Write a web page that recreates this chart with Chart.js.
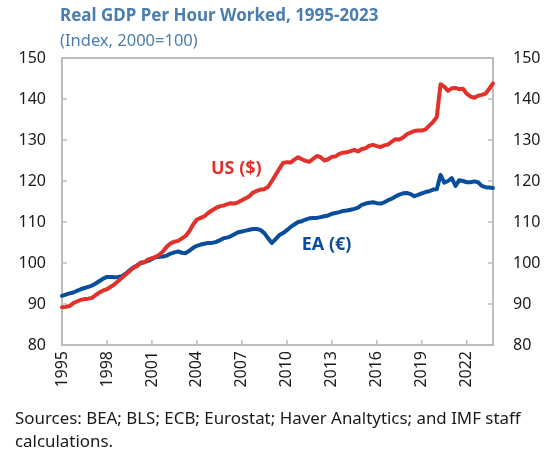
<!DOCTYPE html>
<html>
<head>
<meta charset="utf-8">
<title>Real GDP Per Hour Worked</title>
<script src="https://cdn.jsdelivr.net/npm/chart.js@4/dist/chart.umd.min.js"></script>
<style>
  html, body { margin: 0; padding: 0; background: #fff; }
  #wrap { position: relative; width: 550px; height: 449px; font-family: "Noto Sans", sans-serif; }
  #title { position: absolute; left: 60px; top: 3px; font-size: 17px; font-weight: bold; color: #4a7eb1; white-space: nowrap; }
  #subtitle { position: absolute; left: 60px; top: 28px; font-size: 16.5px; color: #4a7eb1; white-space: nowrap; }
  #source { position: absolute; left: 15px; top: 406px; font-size: 16.9px; line-height: 23px; color: #1a1a1a; white-space: nowrap; }
  canvas { position: absolute; left: 0; top: 0; }
</style>
</head>
<body>
<div id="wrap">
  <canvas id="gdpChart" width="550" height="449"></canvas>
  <div id="title">Real GDP Per Hour Worked, 1995-2023</div>
  <div id="subtitle">(Index, 2000=100)</div>
  <div id="source">Sources: BEA; BLS; ECB; Eurostat; Haver Analtytics; and IMF staff<br>calculations.</div>
</div>
<script>
// quarterly, 1995Q1 .. 2023Q4
const years = [1995, 1996, 1997, 1998, 1999, 2000, 2001, 2002, 2003, 2004, 2005, 2006, 2007, 2008, 2009,
               2010, 2011, 2012, 2013, 2014, 2015, 2016, 2017, 2018, 2019, 2020, 2021, 2022, 2023];
const quarters = [];
years.forEach(y => { for (let q = 1; q <= 4; q++) quarters.push(y + 'Q' + q); });

const usValues = [
  89.2, 89.3, 89.5, 90.2,   90.6, 91.0, 91.2, 91.3,   91.5, 92.2, 92.8, 93.3,   93.6, 94.2, 94.8, 95.6,
  96.4, 97.2, 98.0, 98.8,   99.2, 100.1, 100.2, 100.9, 101.2, 101.5, 102.0, 102.9, 104.0, 104.8, 105.2, 105.4,
  106.0, 106.6, 107.8, 109.4, 110.6, 111.0, 111.4, 112.2, 112.8, 113.4, 113.8, 114.0, 114.3, 114.6, 114.5, 114.8,
  115.3, 115.8, 116.3, 117.2, 117.6, 117.9, 118.0, 118.6, 120.0, 121.5, 123.0, 124.4, 124.6, 124.5, 125.2, 125.8,
  125.3, 124.9, 124.7, 125.4, 126.1, 125.8, 125.0, 125.3, 125.9, 126.0, 126.6, 126.9, 127.0, 127.3, 127.6, 127.2,
  127.8, 128.0, 128.6, 128.8, 128.5, 128.3, 128.7, 128.9, 129.6, 130.2, 130.1, 130.6, 131.4, 131.8, 132.2, 132.3,
  132.3, 132.6, 133.5, 134.4, 135.6, 143.6, 143.0, 142.0, 142.6, 142.7, 142.4, 142.5, 141.3, 140.6, 140.3, 140.8,
  141.0, 141.3, 142.5, 143.8
];

const eaValues = [
  92.0, 92.3, 92.6, 92.8,   93.2, 93.6, 93.9, 94.2,   94.5, 95.0, 95.6, 96.2,   96.6, 96.6, 96.5, 96.6,
  96.8, 97.4, 98.2, 98.9,   99.4, 100.0, 100.2, 100.5, 101.0, 101.4, 101.5, 101.6, 101.8, 102.3, 102.6, 102.8,
  102.5, 102.4, 103.0, 103.7, 104.2, 104.5, 104.7, 104.9, 104.9, 105.1, 105.5, 106.0, 106.2, 106.5, 107.0, 107.5,
  107.7, 107.9, 108.1, 108.3, 108.3, 108.0, 107.3, 106.0, 104.9, 105.8, 106.8, 107.3, 108.0, 108.8, 109.4, 110.0,
  110.2, 110.6, 110.9, 111.0, 111.0, 111.2, 111.4, 111.6, 112.0, 112.2, 112.4, 112.7, 112.8, 113.0, 113.2, 113.5,
  114.2, 114.5, 114.7, 114.8, 114.6, 114.5, 114.8, 115.3, 115.7, 116.2, 116.7, 117.0, 117.1, 116.8, 116.3, 116.6,
  117.0, 117.3, 117.5, 117.9, 118.0, 121.5, 119.6, 120.0, 120.7, 118.8, 120.2, 120.0, 119.7, 119.7, 119.9, 119.7,
  118.8, 118.5, 118.4, 118.3
];

const yTicks = [80, 90, 100, 110, 120, 130, 140, 150];

const RED = '#e0322a';
const BLUE = '#0a4d9c';
const AXIS = '#bdbdbd';

// in-chart series labels (anchored in data space)
const seriesLabels = [
  { text: 'US ($)', index: 46.5, value: 123.0, color: RED },
  { text: 'EA (€)', index: 70.6, value: 104.5, color: BLUE }
];

const frame = {
  id: 'frame',
  beforeDatasetsDraw(chart) {
    const { ctx, chartArea: a, scales } = chart;
    ctx.save();
    ctx.strokeStyle = AXIS;
    ctx.lineWidth = 2;
    ctx.strokeRect(a.left, a.top, a.right - a.left, a.bottom - a.top);
    ctx.lineWidth = 1.5;
    ctx.beginPath();
    yTicks.slice(1, -1).forEach(v => {
      const py = scales.y.getPixelForValue(v);
      ctx.moveTo(a.left, py); ctx.lineTo(a.left + 5, py);
      ctx.moveTo(a.right, py); ctx.lineTo(a.right - 5, py);
    });
    quarters.forEach((q, i) => {
      const yr = parseInt(q, 10);
      if (i > 0 && q.endsWith('Q1') && (yr - 1995) % 3 === 0) {
        const px = scales.x.getPixelForValue(i);
        ctx.moveTo(px, a.bottom); ctx.lineTo(px, a.bottom - 5);
      }
    });
    ctx.stroke();
    ctx.restore();
  },
  afterDatasetsDraw(chart) {
    const { ctx, scales } = chart;
    ctx.save();
    ctx.font = 'bold 18px "Noto Sans", sans-serif';
    ctx.textAlign = 'center';
    ctx.textBaseline = 'middle';
    seriesLabels.forEach(l => {
      ctx.fillStyle = l.color;
      ctx.fillText(l.text, scales.x.getPixelForValue(l.index), scales.y.getPixelForValue(l.value));
    });
    ctx.restore();
  }
};

const tickFont = { family: '"Noto Sans", sans-serif', size: 16 };

new Chart(document.getElementById('gdpChart'), {
  type: 'line',
  data: {
    labels: quarters,
    datasets: [
      { label: 'US ($)', data: usValues, borderColor: RED, borderWidth: 4, pointRadius: 0,
        borderJoinStyle: 'round', borderCapStyle: 'round', tension: 0, clip: 4 },
      { label: 'EA (€)', data: eaValues, borderColor: BLUE, borderWidth: 4, pointRadius: 0,
        borderJoinStyle: 'round', borderCapStyle: 'round', tension: 0, clip: 4 }
    ]
  },
  options: {
    responsive: false,
    animation: false,
    layout: { padding: { top: 58, bottom: 54, left: 0, right: 0 } },
    plugins: { legend: { display: false }, tooltip: { enabled: false }, title: { display: false } },
    scales: {
      x: {
        type: 'category',
        offset: false,
        grid: { display: false, drawTicks: false },
        border: { display: false },
        ticks: {
          autoSkip: false, minRotation: 90, maxRotation: 90, padding: 6,
          color: '#1a1a1a', font: tickFont,
          callback: function (val, i) {
            const q = quarters[i];
            const yr = parseInt(q, 10);
            return (q.endsWith('Q1') && (yr - 1995) % 3 === 0) ? String(yr) : null;
          }
        },
        afterFit: s => { s.height = 50; }
      },
      y: {
        position: 'left', min: 80, max: 150,
        grid: { display: false, drawTicks: false },
        border: { display: false },
        ticks: { stepSize: 10, padding: 16, color: '#1a1a1a', font: tickFont },
        afterFit: s => { s.width = 62; }
      },
      y2: {
        position: 'right', min: 80, max: 150,
        grid: { display: false, drawTicks: false },
        border: { display: false },
        ticks: { stepSize: 10, padding: 20, color: '#1a1a1a', font: tickFont },
        afterFit: s => { s.width = 57; }
      }
    }
  },
  plugins: [frame]
});
</script>
</body>
</html>
